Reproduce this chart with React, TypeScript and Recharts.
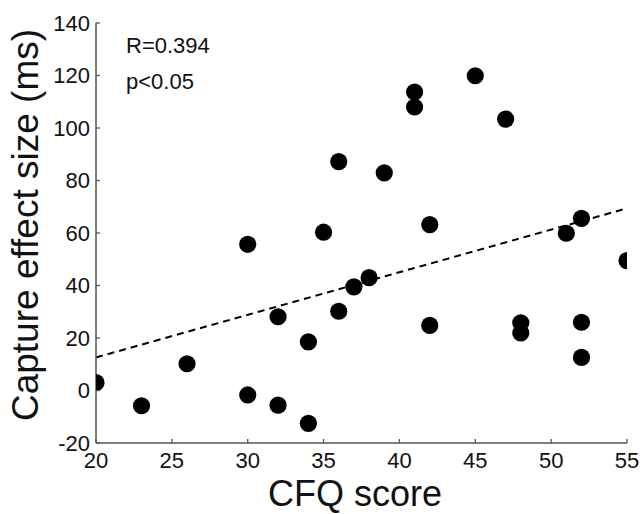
import { ScatterChart, Scatter, XAxis, YAxis, ReferenceLine } from "recharts";

const cfqScores = [20, 23, 26, 30, 30, 32, 32, 34, 34, 35, 36, 36, 37, 38, 39, 41, 41, 42, 42, 45, 47, 48, 48, 51, 52, 52, 52, 55];
const captureEffects = [3, -5.8, 10.2, -1.7, 55.7, 28.1, -5.6, 18.5, -12.5, 60.3, 30.2, 87.2, 39.5, 43, 82.9, 113.7, 108, 63.2, 24.8, 119.9, 103.4, 25.8, 21.9, 59.9, 65.6, 26, 12.6, 49.5];

const fitX = [20, 55];
const fitY = [12.6, 69.4];

const xTicks = [20, 25, 30, 35, 40, 45, 50, 55];
const yTicks = [-20, 0, 20, 40, 60, 80, 100, 120, 140];

const statLines = ["R=0.394", "p<0.05"];

const FONT = '"Liberation Sans", Arial, Helvetica, sans-serif';

const points = cfqScores.map((x, i) => ({ x, y: captureEffects[i] }));

const Dot = (props: any) => <circle cx={props.cx} cy={props.cy} r={8.6} fill="#000" />;

// ticks point inwards, so draw them ourselves next to the label
const YTick = (props: any) => {
  const { x, y, payload } = props;
  return (
    <g>
      <line x1={x + 6} y1={y} x2={x + 10} y2={y} stroke="#555" strokeWidth={1.3} />
      <text x={x} y={y} dy="0.355em" textAnchor="end" fontSize={22} fontFamily={FONT} fill="#111">
        {payload.value}
      </text>
    </g>
  );
};

const XTick = (props: any) => {
  const { x, y, payload } = props;
  return (
    <g>
      <line x1={x} y1={y - 9} x2={x} y2={y - 13} stroke="#555" strokeWidth={1.3} />
      <text x={x} y={y} dy="0.71em" textAnchor="middle" fontSize={22} fontFamily={FONT} fill="#111">
        {payload.value}
      </text>
    </g>
  );
};

const YLabel = () => {
  const cx = 38;
  const cy = 225;
  return (
    <text x={cx} y={cy} transform={`rotate(-90, ${cx}, ${cy})`} textAnchor="middle" fontSize={37} fontFamily={FONT} fill="#111">
      Capture effect size (ms)
    </text>
  );
};

const XLabel = () => (
  <text x={355} y={506} textAnchor="middle" fontSize={36} fontFamily={FONT} fill="#111">
    CFQ score
  </text>
);

export default function App() {
  return (
    <div style={{ position: "absolute", left: 0, top: 0, background: "#fff" }}>
      <ScatterChart width={644} height={514} margin={{ top: 23, right: 17, bottom: 0, left: 0 }}>
        <XAxis
          type="number"
          dataKey="x"
          domain={[20, 55]}
          ticks={xTicks}
          allowDataOverflow
          height={71}
          tickSize={0}
          tickMargin={9}
          tickLine={false}
          tick={<XTick />}
          axisLine={{ stroke: "#555", strokeWidth: 1.5 }}
          label={<XLabel />}
        />
        <YAxis
          type="number"
          dataKey="y"
          domain={[-20, 140]}
          ticks={yTicks}
          allowDataOverflow
          width={96}
          tickSize={0}
          tickMargin={6}
          tickLine={false}
          tick={<YTick />}
          axisLine={{ stroke: "#555", strokeWidth: 1.5 }}
          label={<YLabel />}
        />
        <ReferenceLine
          segment={[
            { x: fitX[0], y: fitY[0] },
            { x: fitX[1], y: fitY[1] },
          ]}
          stroke="#000"
          strokeWidth={2}
          strokeDasharray="7 5"
          ifOverflow="visible"
        />
        <Scatter data={points} shape={<Dot />} isAnimationActive={false} />
      </ScatterChart>
      <svg width={644} height={514} style={{ position: "absolute", left: 0, top: 0, pointerEvents: "none" }}>
        {statLines.map((s, i) => (
          <text key={s} x={126} y={53 + i * 36} fontSize={22} fontFamily={FONT} fill="#111">
            {s}
          </text>
        ))}
      </svg>
    </div>
  );
}
